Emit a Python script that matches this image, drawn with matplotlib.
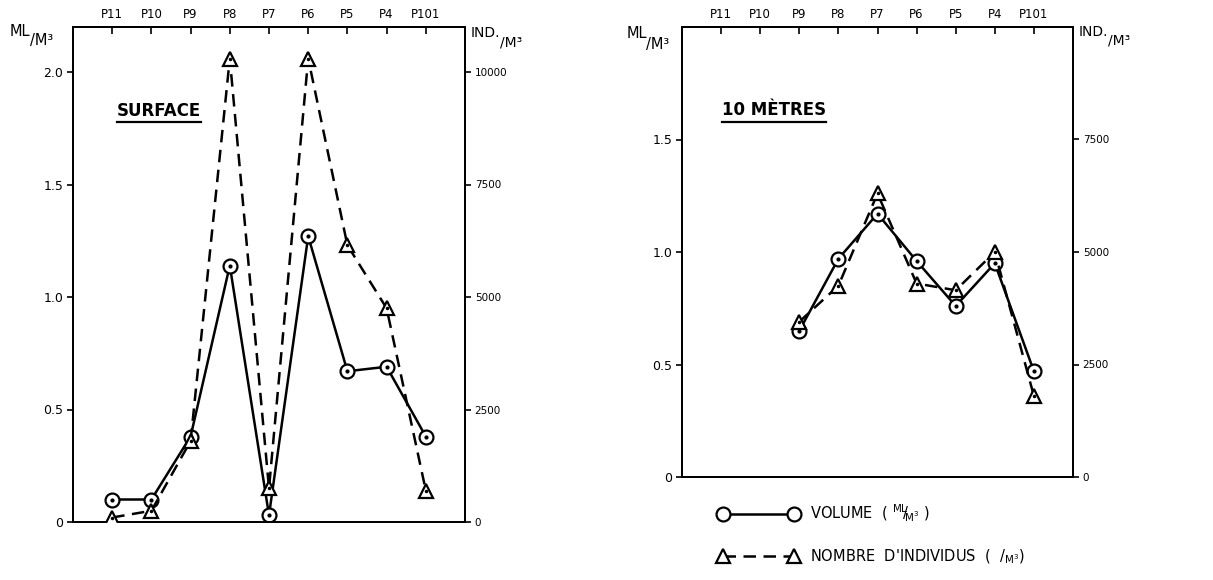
import numpy as np
import matplotlib
matplotlib.use("Agg")
import matplotlib.pyplot as plt
from matplotlib.lines import Line2D

plt.rcParams['font.family'] = ['DejaVu Sans']
plt.rcParams['mathtext.fontset'] = 'dejavusans'

stations = ["P11", "P10", "P9", "P8", "P7", "P6", "P5", "P4", "P101"]

surf_volume = [0.10, 0.10, 0.38, 1.14, 0.03, 1.27, 0.67, 0.69, 0.38]
surf_individus = [100, 250, 1800, 10300, 750, 10300, 6150, 4750, 700]

m10_volume = [np.nan, np.nan, 0.65, 0.97, 1.17, 0.96, 0.76, 0.95, 0.47]
m10_individus = [np.nan, np.nan, 3450, 4250, 6300, 4300, 4150, 5000, 1800]

left_ticks = [0, 0.5, 1.0, 1.5, 2.0]
left_ticklabels = ["0", "0.5", "1.0", "1.5", "2.0"]
right_ticks = [0, 2500, 5000, 7500, 10000]
right_ticklabels = ["0", "2500", "5000", "7500", "10000"]

W, H = 1213, 580
fig = plt.figure(figsize=(W / 100, H / 100), dpi=100)

lw = 1.8
msize = 10

def panel(rect, vol, ind, title, ymax, title_pos):
    ax = fig.add_axes(rect)
    ax2 = ax.twinx()
    x = np.arange(len(stations))
    l1, = ax.plot(x, vol, color='black', lw=lw, ls='-', marker='o', ms=msize,
                  mfc='white', mec='black', mew=1.6, zorder=3)
    ax.plot(x, vol, ls='none', marker='o', ms=2, color='black', zorder=4)
    l2, = ax2.plot(x, ind, color='black', lw=lw, ls=(0, (5, 3)), marker='^', ms=msize,
                   mfc='white', mec='black', mew=1.6, zorder=3)
    ax2.plot(x, ind, ls='none', marker='o', ms=1.5, color='black', zorder=4)
    ax.set_xlim(-1, 9)
    ax.set_ylim(0, ymax)
    ax2.set_ylim(0, ymax * 5000)
    lt = [(v, s) for v, s in zip(left_ticks, left_ticklabels) if v < ymax - 1e-9]
    rt = [(v, s) for v, s in zip(right_ticks, right_ticklabels) if v < ymax * 5000 - 1e-6]
    ax.set_yticks([v for v, _ in lt])
    ax.set_yticklabels([s for _, s in lt], fontsize=9)
    ax2.set_yticks([v for v, _ in rt])
    ax2.set_yticklabels([s for _, s in rt], fontsize=7.5)
    ax.set_xticks(x)
    ax.set_xticklabels(stations, fontsize=8.5)
    ax.xaxis.tick_top()
    ax.tick_params(axis='x', direction='in', length=5, width=1.2, pad=4)
    ax.tick_params(axis='y', direction='out', length=4, width=1.2, pad=3)
    ax2.tick_params(axis='y', direction='out', length=4, width=1.2, pad=3)
    for a in (ax, ax2):
        for s in a.spines.values():
            s.set_linewidth(1.4)
    ax.patch.set_visible(False)
    t = ax.text(title_pos[0], title_pos[1], title, transform=ax.transAxes, fontsize=12,
                fontweight='bold', ha='left', va='baseline')
    return ax, ax2, l1, l2, t

axL, axL2, _, _, tL = panel([73 / W, 1 - 522 / H, 392 / W, 495 / H],
                            surf_volume, surf_individus, "SURFACE", 2.2, (0.112, 0.82))
axR, axR2, l1, l2, tR = panel([682 / W, 1 - 477 / H, 391 / W, 450 / H],
                              m10_volume, m10_individus, "10 MÈTRES", 2.0, (0.102, 0.804))

# legend
leg = fig.legend([l1, l2],
                 [r'VOLUME  ( $^{\mathsf{ML}}\!\!/\!_{\mathsf{M^3}}$ )',
                  r"NOMBRE  D'INDIVIDUS  (  $/_{\mathsf{M^3}}$)"],
                 loc='upper left', bbox_to_anchor=(705 / W, 1 - 490 / H),
                 frameon=False, handlelength=5.5, fontsize=10.5,
                 labelspacing=1.6, handletextpad=0.8, numpoints=2)

# axis unit labels (upper part, then slash + M³ lowered right after it)
fig.canvas.draw()
r = fig.canvas.get_renderer()
inv = fig.transFigure.inverted()

def unit(x_top, y_top, top, drop, size):
    t = fig.text(x_top / W, 1 - y_top / H, top, fontsize=size, ha='left', va='center')
    bb = t.get_window_extent(r)
    xe = inv.transform([[bb.x1, bb.y0]])[0][0]
    fig.text(xe - 1.0 / W, 1 - (y_top + drop) / H, "/M³", fontsize=size, ha='left', va='center')

unit(10, 31, "ML", 10, 10.5)
unit(471, 33, "IND.", 9, 10)
unit(627, 34, "ML", 10, 10.5)
unit(1079, 32, "IND.", 9, 10)

# underline titles
for t in (tL, tR):
    bb = t.get_window_extent(r)
    (x0, y0), (x1, y1) = inv.transform([[bb.x0, bb.y0], [bb.x1, bb.y1]])
    fig.add_artist(Line2D([x0, x1], [y0 - 0.004, y0 - 0.004],
                          transform=fig.transFigure, color='black', lw=1.6))

fig.savefig("out.png", dpi=100)
